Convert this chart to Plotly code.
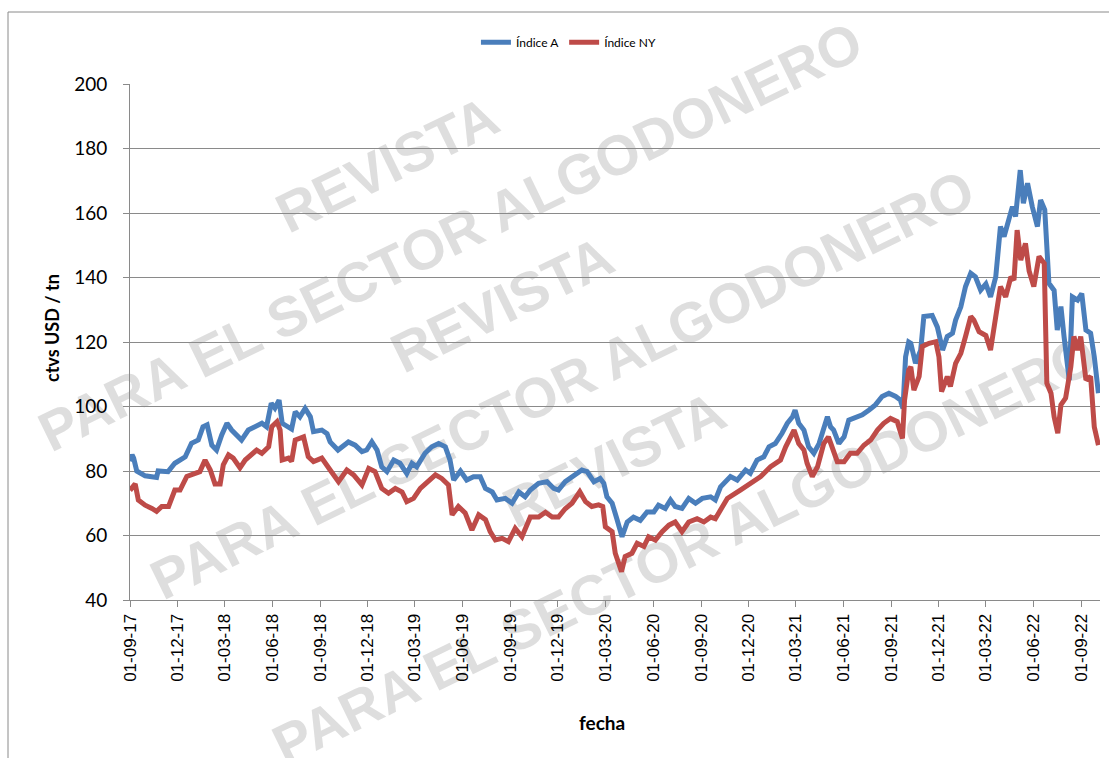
import plotly.graph_objects as go
import math

# ---------------- data ----------------
dates_a = ["2017-09-01","2017-09-05","2017-09-08","2017-09-14","2017-09-30","2017-10-22","2017-10-25","2017-11-13","2017-11-26","2017-12-16","2017-12-28",
"2018-01-10","2018-01-19","2018-01-27","2018-02-05","2018-02-14","2018-02-24","2018-03-06","2018-03-15","2018-04-03","2018-04-16","2018-04-29","2018-05-12","2018-05-21","2018-05-30","2018-06-06","2018-06-14","2018-06-20","2018-06-29","2018-07-08","2018-07-15","2018-07-24","2018-08-03","2018-08-13","2018-08-19","2018-09-04","2018-09-14","2018-09-20","2018-10-05","2018-10-25","2018-11-07","2018-11-20","2018-11-29","2018-12-09","2018-12-19","2018-12-28",
"2019-01-07","2019-01-20","2019-02-01","2019-02-14","2019-02-24","2019-03-05","2019-03-21","2019-04-03","2019-04-16","2019-04-29","2019-05-08","2019-05-15","2019-05-28","2019-06-09","2019-06-22","2019-07-05","2019-07-15","2019-07-28","2019-08-06","2019-08-22","2019-09-04","2019-09-17","2019-09-29","2019-10-09","2019-10-25","2019-11-10","2019-11-23","2019-12-02","2019-12-15","2019-12-31",
"2020-01-16","2020-01-26","2020-02-08","2020-02-20","2020-02-27","2020-03-04","2020-03-14","2020-03-23","2020-04-02","2020-04-12","2020-04-24","2020-05-07","2020-05-20","2020-06-02","2020-06-11","2020-06-24","2020-07-04","2020-07-13","2020-07-26","2020-08-08","2020-08-21","2020-09-03","2020-09-19","2020-09-28","2020-10-08","2020-10-27","2020-11-09","2020-11-25","2020-12-04","2020-12-17","2020-12-30",
"2021-01-09","2021-01-21","2021-02-03","2021-02-13","2021-02-23","2021-02-28","2021-03-07","2021-03-17","2021-03-26","2021-04-05","2021-04-15","2021-04-24","2021-05-01","2021-05-07","2021-05-13","2021-05-23","2021-06-02","2021-06-11","2021-06-24","2021-07-07","2021-07-20","2021-08-01","2021-08-14","2021-08-27","2021-09-09","2021-09-18","2021-09-23","2021-09-28","2021-10-04","2021-10-08","2021-10-17","2021-10-27","2021-11-02","2021-11-18","2021-11-28","2021-12-08","2021-12-17","2021-12-27",
"2022-01-02","2022-01-12","2022-01-21","2022-01-31","2022-02-09","2022-02-19","2022-03-01","2022-03-10","2022-03-20","2022-03-29","2022-04-05","2022-04-14","2022-04-21","2022-04-27","2022-05-06","2022-05-12","2022-05-20","2022-05-29","2022-06-08","2022-06-14","2022-06-22","2022-06-30","2022-07-10","2022-07-16","2022-07-23","2022-07-29","2022-08-08","2022-08-14","2022-08-24","2022-09-01","2022-09-09","2022-09-18","2022-09-25","2022-10-03"]
indice_a = [83,85,84,80,78.5,78,80,79.8,82.4,84.4,88.6,
89.6,93.7,94.3,88,86.5,91.2,94.8,92.7,89.6,92.7,93.7,94.8,93.7,101,99.5,102,94.8,93.7,93,98.4,96.8,99.4,96.8,92.2,92.7,91.6,89,86.5,89,88,86,86.5,89,86.5,81.3,
79.8,83.4,82.4,79.2,82.4,81.3,85.5,87.5,88.5,87.5,83.4,77.2,80,77.2,78.2,78.2,74.6,73.5,71,71.5,70,73.5,72,74.1,76.2,76.7,74.6,74.1,76.7,78.3,
80.3,79.8,76.7,77.7,76.2,72,70,65.2,59.6,64.2,65.7,64.7,67.3,67.3,69.4,68.4,71,69,68.4,71.5,70,71.5,72,71,75.1,78.3,77.2,80.3,79.3,83.4,84.4,
87.5,88.5,91.7,94.8,96.8,98.9,94.8,92.7,87.5,85.5,88.5,92.7,96.8,93.7,92.7,88.5,90.6,95.8,96.8,97.4,98.9,100.5,103.1,104.1,103.1,102,99.4,115.4,120,119.6,113.4,117.5,127.9,128.2,124.6,117.5,121.7,122.7,
126.8,130.9,137.2,141.3,140.2,136.1,138,134,140.2,155.8,152.7,157.8,162,158.9,173.3,163,169.2,162,155.8,164,161,138.2,136,123.7,131,121.7,108.2,134,133,135,123.7,122.7,115.4,104.1]

dates_ny = ["2017-09-01","2017-09-11","2017-09-17","2017-09-30","2017-10-13","2017-10-22","2017-11-01","2017-11-14","2017-11-26","2017-12-06","2017-12-19",
"2018-01-01","2018-01-13","2018-01-23","2018-02-02","2018-02-11","2018-02-21","2018-02-27","2018-03-09","2018-03-18","2018-03-31","2018-04-10","2018-04-23","2018-05-02","2018-05-12","2018-05-25","2018-05-31","2018-06-10","2018-06-16","2018-06-20","2018-07-02","2018-07-08","2018-07-15","2018-07-31","2018-08-09","2018-08-19","2018-09-04","2018-09-14","2018-09-20","2018-10-06","2018-10-22","2018-11-04","2018-11-20","2018-12-03","2018-12-15","2018-12-28",
"2019-01-10","2019-01-23","2019-02-05","2019-02-14","2019-02-27","2019-03-12","2019-03-25","2019-04-10","2019-04-22","2019-05-05","2019-05-12","2019-05-24","2019-06-06","2019-06-19","2019-07-02","2019-07-15","2019-07-24","2019-08-03","2019-08-16","2019-08-28","2019-09-10","2019-09-23","2019-10-09","2019-10-25","2019-11-07","2019-11-20","2019-12-02","2019-12-15","2019-12-28",
"2020-01-12","2020-01-23","2020-02-04","2020-02-17","2020-02-25","2020-03-01","2020-03-14","2020-03-20","2020-04-01","2020-04-08","2020-04-21","2020-05-01","2020-05-14","2020-05-23","2020-06-05","2020-06-18","2020-07-01","2020-07-13","2020-07-26","2020-08-08","2020-08-24","2020-09-06","2020-09-19","2020-09-28","2020-10-08","2020-10-21","2020-11-15","2020-12-04","2020-12-24",
"2021-01-12","2021-01-31","2021-02-10","2021-02-19","2021-02-26","2021-03-07","2021-03-17","2021-03-23","2021-04-02","2021-04-12","2021-04-24","2021-05-03","2021-05-10","2021-05-20","2021-06-02","2021-06-14","2021-06-27","2021-07-10","2021-07-23","2021-08-05","2021-08-17","2021-08-30","2021-09-12","2021-09-18","2021-09-22","2021-09-26","2021-10-04","2021-10-08","2021-10-14","2021-10-24","2021-10-30","2021-11-12","2021-11-25","2021-12-01","2021-12-06","2021-12-17","2021-12-23",
"2022-01-02","2022-01-12","2022-01-21","2022-01-31","2022-02-06","2022-02-16","2022-03-01","2022-03-10","2022-03-20","2022-03-29","2022-04-08","2022-04-18","2022-04-24","2022-04-30","2022-05-07","2022-05-16","2022-05-23","2022-06-01","2022-06-11","2022-06-21","2022-06-26","2022-07-04","2022-07-10","2022-07-17","2022-07-23","2022-08-01","2022-08-11","2022-08-17","2022-08-24","2022-08-30","2022-09-09","2022-09-18","2022-09-25","2022-10-02","2022-10-03"]
indice_ny = [74,76,71,69.4,68.4,67.5,69,69,74.1,74.1,78.3,
79.3,79.8,83.4,80.3,76,76,81.9,85,84,81,83.4,85,86.5,85.5,87.5,93.7,95.3,92.7,83.4,84,83,89.6,90.6,84.4,82.9,84,81.4,80.3,76.7,80.3,78.8,75.7,80.8,79.8,74.6,
73.1,74.6,73.5,70.5,71.5,74.6,76.7,78.8,77.7,75.7,66.4,69,67,61.7,66.4,64.9,61.2,58.6,59.1,58.1,62.2,59.6,65.7,65.7,67.2,65.7,65.7,68.3,70,
73.6,70.5,69,69.5,69,62.7,61.2,54.5,48.8,53.5,54.5,57.6,56.6,59.6,58.6,61.2,63.2,64.2,61.2,64.2,65.2,64.2,65.7,65.2,68,71.5,74.1,76.2,78.3,
81.3,83.4,87.5,90.6,92.7,88.5,86.5,82.4,78.3,81.3,88.5,90.6,87.5,82.9,82.9,85.5,85.5,88,89.6,92.7,94.8,96.3,95.3,92.7,90.1,102,111.3,112.3,105.1,109.3,118.6,119.6,120.1,115.4,104.6,109.3,106.2,
113.4,116.5,121.7,127.9,126.8,123.2,122,117.5,127.9,137.2,134,140.2,139.2,154.7,145.4,150.6,142,137.2,146.5,144.4,107.2,104.1,96.8,91.7,100.5,102.6,112.3,121.7,117.5,121.7,108.2,109.3,93.7,89.6,88]

series_names = ["Índice A", "Índice NY"]
y_ticks = [40, 60, 80, 100, 120, 140, 160, 180, 200]
x_title = "fecha"
y_title = "ctvs USD / tn"
watermark_texts = ["REVISTA", "PARA EL SECTOR ALGODONERO", "REVISTA",
                   "PARA EL SECTOR ALGODONERO", "REVISTA", "PARA EL SECTOR ALGODONERO"]

# ---------------- figure ----------------
W, H = 1109, 758
L, R, T, B = 130, 9, 84, 158
pw, ph = W - L - R, H - T - B

def px2paper(X, Y):
    return (X - L) / pw, (T + ph - Y) / ph

fig = go.Figure()
fig.add_trace(go.Scatter(x=dates_a, y=indice_a, mode="lines", name=series_names[0],
                         line=dict(color="#4A7EBB", width=5)))
fig.add_trace(go.Scatter(x=dates_ny, y=indice_ny, mode="lines", name=series_names[1],
                         line=dict(color="#BE4B48", width=5)))

shapes = []
# outer chart border
x0, y0 = px2paper(8, 12)
x1, y1 = px2paper(1130, 780)
shapes.append(dict(type="rect", xref="paper", yref="paper", x0=x0, y0=y1, x1=x1, y1=y0,
                   line=dict(color="#8a8a8a", width=1), fillcolor="rgba(0,0,0,0)", layer="above"))

# watermark
wm_centers = [(385, 160), (448, 232), (500, 300), (560, 380), (612, 455), (682, 545)]
ang = math.radians(26)
for txt, (cx, cy) in zip(watermark_texts, wm_centers):
    half = 300
    ax0, ay0 = px2paper(cx - half * math.cos(ang), cy + half * math.sin(ang))
    ax1, ay1 = px2paper(cx + half * math.cos(ang), cy - half * math.sin(ang))
    shapes.append(dict(type="line", xref="paper", yref="paper", x0=ax0, y0=ay0, x1=ax1, y1=ay1,
                       line=dict(color="rgba(0,0,0,0)", width=0), layer="below",
                       label=dict(text=txt, textposition="middle", yanchor="middle",
                                  font=dict(family="Liberation Sans", size=56,
                                            color="rgba(190,190,190,0.5)", weight="bold"))))

fig.update_layout(
    width=W, height=H, autosize=False,
    margin=dict(l=L, r=R, t=T, b=B),
    paper_bgcolor="white", plot_bgcolor="white",
    showlegend=True,
    legend=dict(orientation="h", x=0.452, y=1.081, xanchor="center", yanchor="middle",
                font=dict(family="Lato", size=12, color="#000"), bgcolor="rgba(0,0,0,0)"),
    shapes=shapes,
    annotations=[
        dict(text="<b>" + x_title + "</b>", xref="paper", yref="paper",
             x=px2paper(602, 0)[0], y=px2paper(0, 722)[1], xanchor="center", yanchor="middle",
             showarrow=False, font=dict(family="Lato", size=19, color="#000")),
        dict(text="<b>" + y_title + "</b>", xref="paper", yref="paper",
             x=px2paper(52, 0)[0], y=px2paper(0, 328)[1], xanchor="center", yanchor="middle",
             showarrow=False, textangle=-90,
             font=dict(family="Lato", size=18, color="#000")),
    ],
)

fig.update_xaxes(
    type="date", range=["2017-09-01", "2022-10-06"],
    tick0="2017-09-01", dtick="M3", tickformat="%d-%m-%y", tickangle=-90,
    ticks="outside", ticklen=6, tickcolor="#8a8a8a",
    showline=True, linecolor="#8a8a8a", linewidth=1,
    showgrid=False, zeroline=False,
    tickfont=dict(family="Liberation Sans", size=17, color="#000"),
)
fig.update_yaxes(
    range=[40, 200], tickvals=y_ticks, ticktext=[str(v) for v in y_ticks],
    ticks="outside", ticklen=6, tickcolor="#8a8a8a", ticklabelstandoff=12,
    showline=True, linecolor="#8a8a8a", linewidth=1,
    showgrid=True, gridcolor="#8a8a8a", gridwidth=1.3, zeroline=False,
    tickfont=dict(family="Lato", size=19, color="#000"),
)

fig.write_html("out.html", config={"displayModeBar": False},
               post_script="document.body.style.margin='0';document.body.style.overflow='hidden';")
